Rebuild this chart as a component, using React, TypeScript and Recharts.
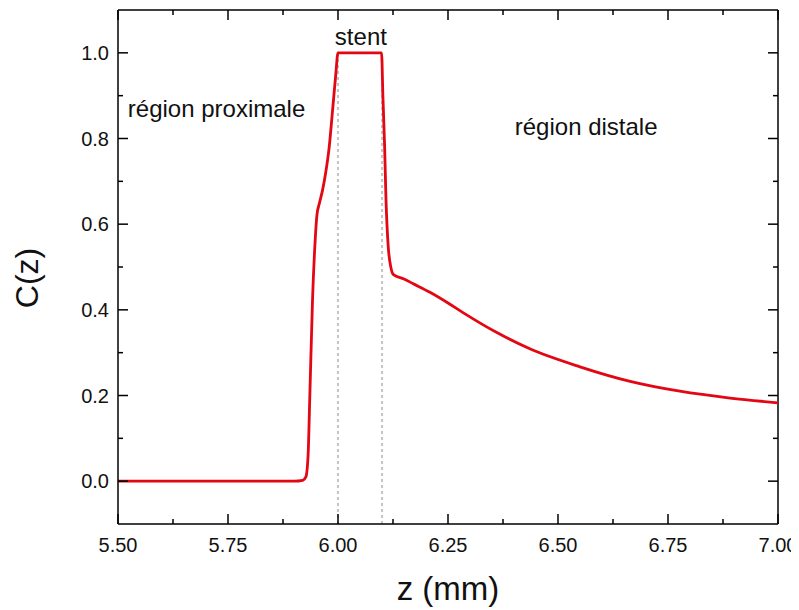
import React from 'react';
import { LineChart, Line, XAxis, YAxis, ReferenceLine, ReferenceDot } from 'recharts';

const zValues = [5.5, 5.8, 5.9, 5.92, 5.927, 5.932, 5.936, 5.942, 5.948, 5.952, 5.958, 5.965, 5.972, 5.98, 5.988, 5.995, 6.0, 6.05, 6.099, 6.102, 6.106, 6.109, 6.114, 6.12, 6.126, 6.15, 6.171, 6.209, 6.25, 6.285, 6.361, 6.436, 6.55, 6.664, 6.777, 6.891, 7.0];
const cValues = [0, 0, 0, 0.002, 0.01, 0.06, 0.2, 0.42, 0.56, 0.62, 0.65, 0.68, 0.72, 0.78, 0.87, 0.95, 1.0, 1.0, 1.0, 0.9, 0.78, 0.66, 0.55, 0.5, 0.482, 0.472, 0.461, 0.441, 0.416, 0.393, 0.347, 0.309, 0.267, 0.233, 0.21, 0.194, 0.183];

const xMajorTicks = [5.5, 5.75, 6.0, 6.25, 6.5, 6.75, 7.0];
const xMinorTicks = [5.625, 5.875, 6.125, 6.375, 6.625, 6.875];
const yMajorTicks = [0, 0.2, 0.4, 0.6, 0.8, 1.0];
const yMinorTicks = [0.1, 0.3, 0.5, 0.7, 0.9];
const stentBounds = [6.0, 6.1];

const annotations = [
  { text: 'stent', z: 6.052, c: 1.039 },
  { text: 'région proximale', z: 5.724, c: 0.87 },
  { text: 'région distale', z: 6.564, c: 0.828 },
];

const data = zValues.map((z, i) => ({ z, c: cValues[i] }));

const FONT = '"Liberation Sans", Arial, sans-serif';
const isMajor = (v: number, majors: number[]) => majors.some((m) => Math.abs(m - v) < 1e-9);

const makeTick = (side: 'bottom' | 'top' | 'left' | 'right', majors: number[], digits: number, showLabel: boolean, shift: number) =>
  (props: any) => {
    const { payload } = props;
    const x = props.x;
    const y = props.y;
    const v = payload.value;
    const major = isMajor(v, majors);
    const len = major ? 10 : 5;
    let line;
    if (side === 'bottom') line = <line x1={x} y1={y} x2={x} y2={y - len} stroke="#000" strokeWidth={1.5} />;
    else if (side === 'top') line = <line x1={x} y1={y + shift} x2={x} y2={y + shift + len} stroke="#000" strokeWidth={1.5} />;
    else if (side === 'left') line = <line x1={x} y1={y} x2={x + len} y2={y} stroke="#000" strokeWidth={1.5} />;
    else line = <line x1={x + shift} y1={y} x2={x + shift - len} y2={y} stroke="#000" strokeWidth={1.5} />;
    let label = null;
    if (showLabel && major) {
      if (side === 'bottom') {
        label = (
          <text x={x} y={y + 28} textAnchor="middle" fontSize={20} fontFamily={FONT} fill="#111">
            {v.toFixed(digits)}
          </text>
        );
      } else if (side === 'left') {
        label = (
          <text x={x - 9} y={y + 7} textAnchor="end" fontSize={20} fontFamily={FONT} fill="#111">
            {v.toFixed(digits)}
          </text>
        );
      }
    }
    return (
      <g>
        {line}
        {label}
      </g>
    );
  };

const xAllTicks = [...xMajorTicks, ...xMinorTicks].sort((a, b) => a - b);
const yAllTicks = [...yMajorTicks, ...yMinorTicks].sort((a, b) => a - b);

const YTitle = (props: any) => {
  const vb = props.viewBox || { x: 0, y: 2, width: 110, height: 514 };
  const cx = vb.x + 19;
  const cy = vb.y + vb.height / 2 + 11;
  return (
    <text
      x={cx}
      y={cy}
      transform={`rotate(-90, ${cx}, ${cy})`}
      textAnchor="middle"
      dominantBaseline="central"
      fontSize={32}
      fontFamily={FONT}
      fill="#111"
    >
      C(z)
    </text>
  );
};

const AnnotationLabel = (text: string) => (props: any) => {
  const vb = props.viewBox || { x: 0, y: 0, width: 0, height: 0 };
  const cx = vb.x + (vb.width || 0) / 2;
  const cy = vb.y + (vb.height || 0) / 2;
  return (
    <text x={cx} y={cy + 8.5} textAnchor="middle" fontSize={24} fontFamily={FONT} fill="#111">
      {text}
    </text>
  );
};

export default function App() {
  return (
    <div style={{ background: '#fff' }}>
      <LineChart width={791} height={600} data={data} margin={{ top: 1, right: 20, bottom: 0, left: 0 }}>
        <XAxis
          xAxisId="b"
          dataKey="z"
          type="number"
          domain={[5.5, 7.0]}
          ticks={xAllTicks}
          interval={0}
          allowDataOverflow
          height={84}
          tickSize={0}
          tickMargin={0}
          tickLine={false}
          axisLine={{ stroke: '#000', strokeWidth: 1.5 }}
          tick={makeTick('bottom', xMajorTicks, 2, true, 0)}
          label={{ value: 'z (mm)', position: 'insideBottom', offset: 8, fontSize: 33, fontFamily: FONT, fill: '#111' }}
        />
        <XAxis
          xAxisId="t"
          orientation="top"
          dataKey="z"
          type="number"
          domain={[5.5, 7.0]}
          ticks={xAllTicks}
          interval={0}
          allowDataOverflow
          height={1}
          tickSize={0}
          tickMargin={0}
          tickLine={false}
          axisLine={false}
          tick={makeTick('top', xMajorTicks, 2, false, 0)}
        />
        <YAxis
          yAxisId="l"
          type="number"
          domain={[-0.1, 1.1]}
          ticks={yAllTicks}
          interval={0}
          allowDataOverflow
          width={110}
          tickSize={0}
          tickMargin={0}
          tickLine={false}
          axisLine={{ stroke: '#000', strokeWidth: 1.5 }}
          tick={makeTick('left', yMajorTicks, 1, true, 0)}
          label={{ content: YTitle }}
        />
        <YAxis
          yAxisId="r"
          orientation="right"
          type="number"
          domain={[-0.1, 1.1]}
          ticks={yAllTicks}
          interval={0}
          allowDataOverflow
          width={1}
          tickSize={0}
          tickMargin={0}
          tickLine={false}
          axisLine={false}
          tick={makeTick('right', yMajorTicks, 1, false, 0)}
        />
        <ReferenceLine xAxisId="b" yAxisId="l" y={1.1} stroke="#000" strokeWidth={1.5} ifOverflow="extendDomain" />
        <ReferenceLine xAxisId="b" yAxisId="l" x={7.0} stroke="#000" strokeWidth={1.5} />
        {stentBounds.map((zb) => (
          <ReferenceLine
            key={zb}
            xAxisId="b"
            yAxisId="l"
            segment={[
              { x: zb, y: -0.1 },
              { x: zb, y: 1.0 },
            ]}
            stroke="#8a8a8a"
            strokeWidth={1}
            strokeDasharray="3 3"
          />
        ))}
        <Line
          xAxisId="b"
          yAxisId="l"
          type="monotone"
          dataKey="c"
          stroke="#e30613"
          strokeWidth={2.8}
          dot={false}
          isAnimationActive={false}
        />
        {annotations.map((a) => (
          <ReferenceDot
            key={a.text}
            xAxisId="b"
            yAxisId="l"
            x={a.z}
            y={a.c}
            r={0}
            fill="none"
            stroke="none"
            ifOverflow="visible"
            label={{ content: AnnotationLabel(a.text) }}
          />
        ))}
      </LineChart>
    </div>
  );
}
